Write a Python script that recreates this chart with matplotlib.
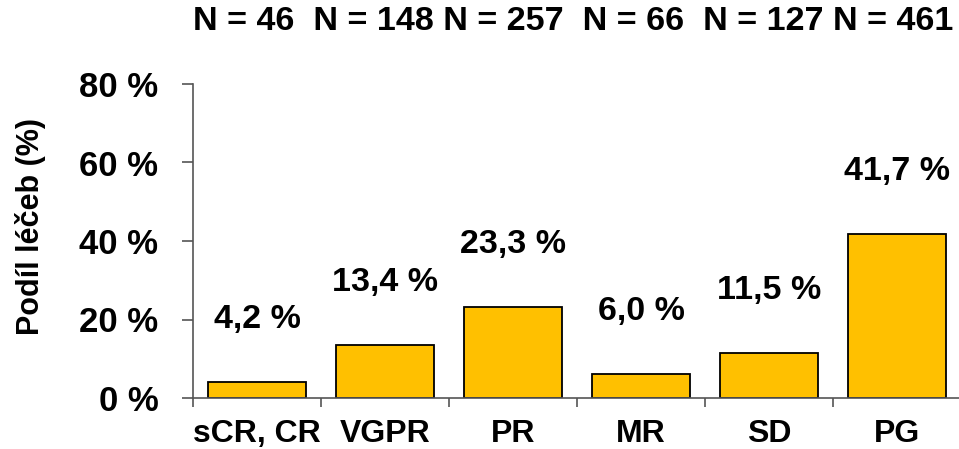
import matplotlib.pyplot as plt
import numpy as np

plt.rcParams['font.family'] = ['Liberation Sans', 'DejaVu Sans']
plt.rcParams['font.weight'] = 'bold'

categories = ["sCR, CR", "VGPR", "PR", "MR", "SD", "PG"]
shares = [4.2, 13.4, 23.3, 6.0, 11.5, 41.7]
counts = [46, 148, 257, 66, 127, 461]
value_labels = ["4,2 %", "13,4 %", "23,3 %", "6,0 %", "11,5 %", "41,7 %"]
yticks = [0, 20, 40, 60, 80]

fig = plt.figure(figsize=(9.59, 4.49), dpi=100)
W, H = 959, 449
left, right, top, bottom = 193, 961, 84, 398
ax = fig.add_axes([left / W, 1 - bottom / H, (right - left) / W, (bottom - top) / H])

x = np.arange(len(categories))
ax.bar(x, shares, width=0.77, color="#FFC000", edgecolor="black", linewidth=1.3)
ax.set_xlim(-0.5, len(categories) - 0.5)
ax.set_ylim(0, 80)

for spine in ["top", "right"]:
    ax.spines[spine].set_visible(False)
for spine in ["left", "bottom"]:
    ax.spines[spine].set_color("#555555")
    ax.spines[spine].set_linewidth(1.2)

ax.set_yticks(yticks)
ax.set_yticklabels([f"{v} %" for v in yticks], fontsize=25, fontweight="bold")
ax.tick_params(axis="y", length=8, width=1.2, color="#555555", pad=17)

ax.set_xticks(x)
ax.set_xticklabels(categories, fontsize=23, fontweight="bold")
ax.tick_params(axis="x", length=0, pad=15)
ax.set_xticks(np.arange(len(categories) + 1) - 0.5, minor=True)
ax.tick_params(axis="x", which="minor", length=6.5, width=1.2, color="#555555")

for xi, v, lab in zip(x, shares, value_labels):
    ax.annotate(lab, (xi, v), xytext=(0, 45), textcoords="offset points",
                ha="center", va="center", fontsize=24.5, fontweight="bold")

# header line with counts, spaced like the original slide text
seps = ["  ", " ", "  ", "  ", " ", ""]
n_text = "".join(f"N = {n}{s}" for n, s in zip(counts, seps))
fig.text(left / W, 1 - 22 / H, n_text, ha="left", va="center",
         fontsize=24.6, fontweight="bold")

ax.set_ylabel("Podíl léčeb (%)", fontsize=22, fontweight="bold", va="center")
ax.yaxis.set_label_coords(-0.212, 0.545)

fig.savefig("out.png", dpi=100)
